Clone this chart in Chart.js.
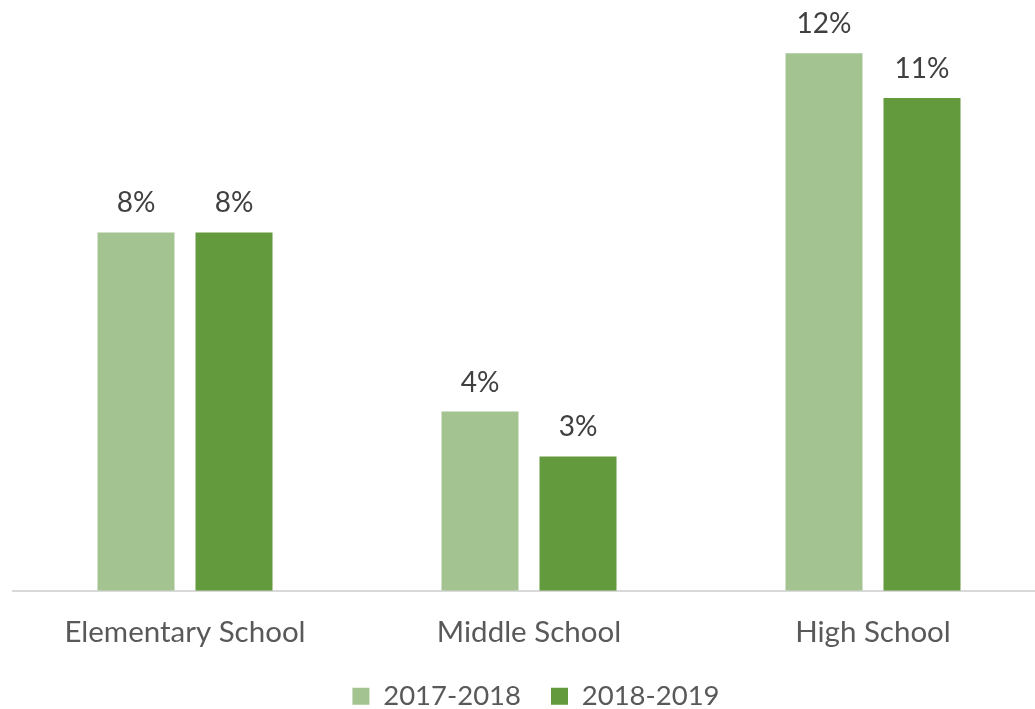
<!DOCTYPE html>
<html>
<head>
<meta charset="utf-8">
<script src="https://cdn.jsdelivr.net/npm/chart.js@4"></script>
<style>
  html, body { margin: 0; padding: 0; background: #ffffff; overflow: hidden; }
  #wrap { position: relative; width: 1035px; height: 709px; overflow: hidden; }
  #box { position: absolute; left: 0; top: 0; width: 1070px; height: 720px; }
</style>
</head>
<body>
<div id="wrap"><div id="box"><canvas id="c"></canvas></div></div>
<script>
const categories = ['Elementary School', 'Middle School', 'High School'];
const seriesNames = ['2017-2018', '2018-2019'];
const values2017 = [8, 4, 12];
const values2018 = [8, 3, 11];
const yMax = 13.19;

const FONT = 'Lato, "Open Sans", sans-serif';

const valueLabels = {
  id: 'valueLabels',
  afterDatasetsDraw(chart) {
    const ctx = chart.ctx;
    ctx.save();
    ctx.font = '28px ' + FONT;
    ctx.fillStyle = '#404040';
    ctx.textAlign = 'center';
    ctx.textBaseline = 'alphabetic';
    chart.data.datasets.forEach((ds, i) => {
      const meta = chart.getDatasetMeta(i);
      meta.data.forEach((el, j) => {
        ctx.fillText(ds.data[j] + '%', el.x, el.y - 20);
      });
    });
    ctx.restore();
  }
};

const legendShift = {
  id: 'legendShift',
  afterLayout(chart) {
    const lg = chart.legend;
    if (lg) { lg.left += 7; lg.right += 7; }
  }
};

new Chart(document.getElementById('c'), {
  type: 'bar',
  data: {
    labels: categories,
    datasets: [
      { label: seriesNames[0], data: values2017, backgroundColor: '#A3C490', borderWidth: 0 },
      { label: seriesNames[1], data: values2018, backgroundColor: '#629A3D', borderWidth: 0 }
    ]
  },
  options: {
    responsive: true,
    maintainAspectRatio: false,
    animation: false,
    events: [],
    layout: { padding: { left: 13, right: 25, top: 0, bottom: 0 } },
    datasets: { bar: { categoryPercentage: 196 / 344, barPercentage: 77 / 98 } },
    scales: {
      x: {
        grid: { display: false, drawTicks: false },
        border: { display: true, color: '#D9D9D9', width: 2 },
        ticks: { color: '#595959', font: { family: FONT, size: 29.5 }, padding: 24.5 },
        afterFit(scale) { scale.height = 61.75; }
      },
      y: { display: false, min: 0, max: yMax }
    },
    plugins: {
      legend: {
        position: 'bottom',
        labels: {
          color: '#595959',
          font: { family: FONT, size: 27.5 },
          boxWidth: 17, boxHeight: 17,
          padding: 30
        }
      },
      tooltip: { enabled: false }
    }
  },
  plugins: [valueLabels, legendShift]
});
</script>
</body>
</html>
